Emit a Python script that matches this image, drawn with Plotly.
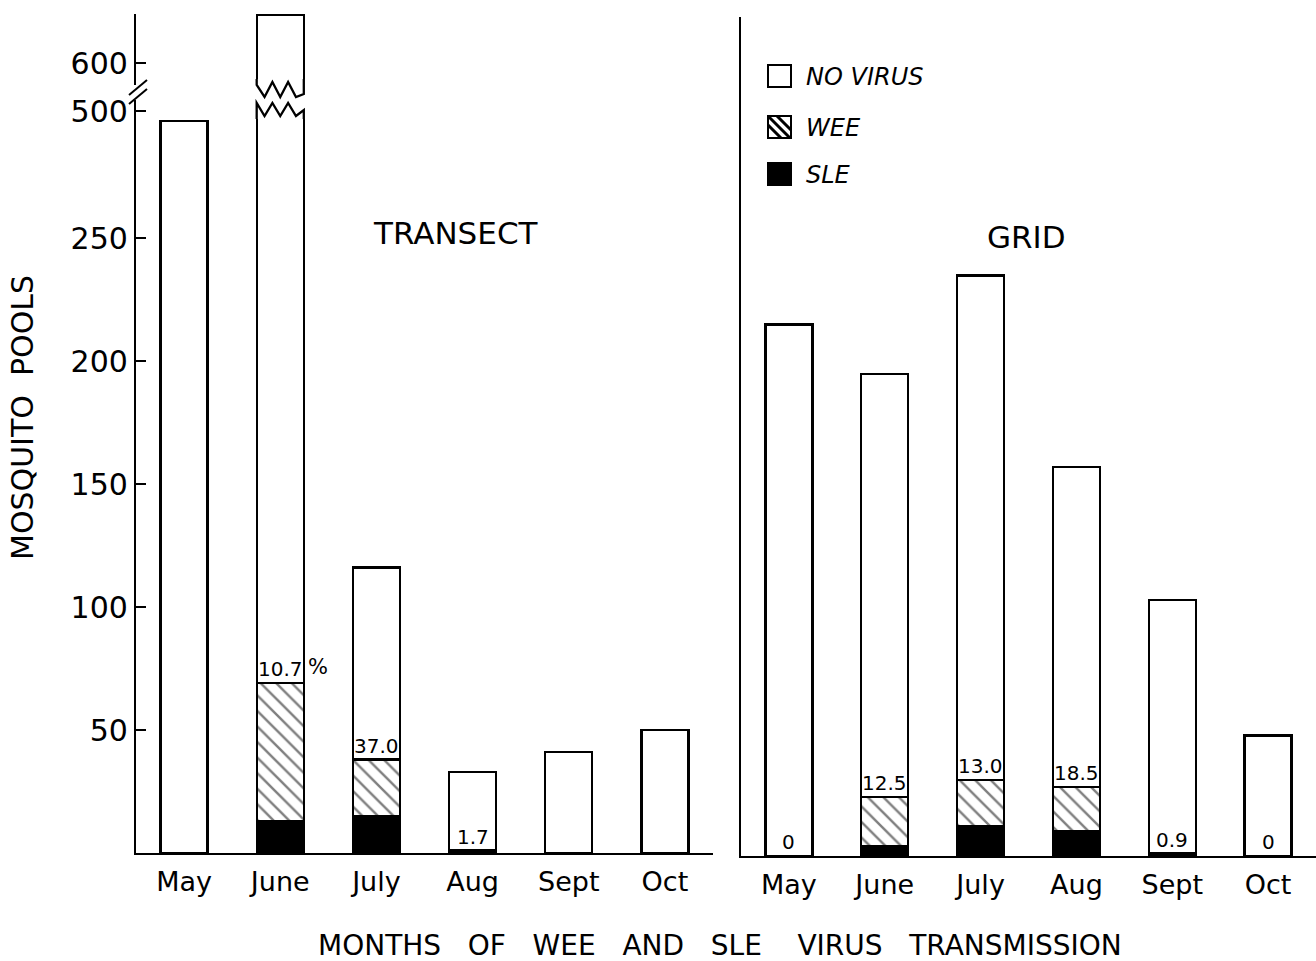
import plotly.graph_objects as go

# ---------------- data ----------------
months = ["May", "June", "July", "Aug", "Sept", "Oct"]

transect_total = [480, 700, 116, 33, 41, 50]
transect_sle = [0, 13, 15, 1, 0, 0]
transect_wee = [0, 56, 23, 0, 0, 0]
transect_labels = ["", "10.7", "37.0", "1.7", "", ""]

grid_total = [216, 196, 236, 158, 104, 49]
grid_sle = [0, 4, 12, 10, 1, 0]
grid_wee = [0, 20, 19, 18, 0, 0]
grid_labels = ["0", "12.5", "13.0", "18.5", "0.9", "0"]

ytick_values = [50, 100, 150, 200, 250, 500, 600]
ytick_labels = ["50", "100", "150", "200", "250", "500", "600"]

# ---------------- geometry helpers ----------------
W, H = 1316, 961
FONT = "DejaVu Sans"


def fx(px):
    return px / W


def fy(py):
    return 1 - py / H


PX_PER_UNIT = 2.46
YMAX = (853 - 14) / PX_PER_UNIT


def disp(v):
    """broken axis: linear to 250, then 500-600 compressed above the break"""
    if v <= 250:
        return v
    return 301.6 + (v - 500) * 0.195


def pix_to_disp(py, base=853):
    return (base - py) / PX_PER_UNIT


BAR_W = 0.49
HATCH = dict(shape="\\", fgcolor="black", bgcolor="white", size=11, solidity=0.22)
LINE = dict(color="black", width=2.3)

fig = go.Figure()
xs = list(range(len(months)))


def add_panel(total, sle, wee, xa, ya):
    nov = [disp(t) - s - w for t, s, w in zip(total, sle, wee)]
    fig.add_trace(go.Bar(x=xs, y=sle, width=BAR_W, marker=dict(color="black", line=LINE),
                         xaxis=xa, yaxis=ya, showlegend=False))
    fig.add_trace(go.Bar(x=xs, y=wee, width=BAR_W,
                         marker=dict(color="white", pattern=HATCH, line=LINE),
                         xaxis=xa, yaxis=ya, showlegend=False))
    fig.add_trace(go.Bar(x=xs, y=nov, width=BAR_W, marker=dict(color="white", line=LINE),
                         xaxis=xa, yaxis=ya, showlegend=False))


add_panel(transect_total, transect_sle, transect_wee, "x", "y")
add_panel(grid_total, grid_sle, grid_wee, "x2", "y2")

LAB_FONT = dict(family=FONT, size=20, color="black")
annotations = []
for i, lab in enumerate(transect_labels):
    if lab:
        annotations.append(dict(x=i, y=transect_sle[i] + transect_wee[i], xref="x", yref="y",
                                text=lab, showarrow=False, xanchor="center", yanchor="bottom",
                                yshift=0, font=LAB_FONT))
annotations.append(dict(x=1 + BAR_W / 2, y=transect_sle[1] + transect_wee[1], xref="x", yref="y",
                        text="%", showarrow=False, xanchor="left", yanchor="bottom", xshift=2, yshift=2,
                        font=dict(family=FONT, size=21, color="black")))
for i, lab in enumerate(grid_labels):
    annotations.append(dict(x=i, y=grid_sle[i] + grid_wee[i], xref="x2", yref="y2",
                            text=lab, showarrow=False, xanchor="center", yanchor="bottom",
                            yshift=0, font=LAB_FONT))

# panel names and axis titles
annotations += [
    dict(x=fx(456), y=fy(233), xref="paper", yref="paper", text="TRANSECT", showarrow=False,
         xanchor="center", yanchor="middle", font=dict(family=FONT, size=31, color="black")),
    dict(x=fx(1026), y=fy(237), xref="paper", yref="paper", text="GRID", showarrow=False,
         xanchor="center", yanchor="middle", font=dict(family=FONT, size=31, color="black")),
    dict(x=fx(720), y=fy(945), xref="paper", yref="paper",
         text="MONTHS   OF   WEE   AND   SLE    VIRUS   TRANSMISSION", showarrow=False,
         xanchor="center", yanchor="middle", font=dict(family=FONT, size=28, color="black")),
    dict(x=fx(22), y=fy(418), xref="paper", yref="paper", text="MOSQUITO  POOLS", showarrow=False,
         xanchor="center", yanchor="middle", textangle=-90,
         font=dict(family=FONT, size=30, color="black")),
]

# legend drawn by hand
legend_items = [("NO VIRUS", 76), ("WEE", 127), ("SLE", 174)]
shapes = []
BX0, BX1 = 768, 791
for name, cy in legend_items:
    annotations.append(dict(x=fx(804), y=fy(cy + 1), xref="paper", yref="paper",
                            xanchor="left", yanchor="middle",
                            text="<i>" + name + "</i>", showarrow=False,
                            font=dict(family=FONT, size=24, color="black")))
    top, bot = cy - 11, cy + 11
    fill = "black" if name == "SLE" else "white"
    shapes.append(dict(type="rect", xref="paper", yref="paper", x0=fx(BX0), x1=fx(BX1),
                       y0=fy(bot), y1=fy(top), fillcolor=fill, line=dict(color="black", width=2)))
    if name == "WEE":
        size = BX1 - BX0
        for k in (-1, 0, 1):
            off = k * 9
            ax, ay = BX0, top - off
            bx, by = BX1, top + size - off
            if ay < top:
                ax += top - ay
                ay = top
            if by > bot:
                bx -= by - bot
                by = bot
            shapes.append(dict(type="line", xref="paper", yref="paper", x0=fx(ax), y0=fy(ay),
                               x1=fx(bx), y1=fy(by), line=dict(color="black", width=3)))

# break on the June transect bar
xl, xr = 1 - BAR_W / 2, 1 + BAR_W / 2
shapes.append(dict(type="rect", xref="x", yref="y", x0=xl - 0.04, x1=xr + 0.04,
                   y0=pix_to_disp(119), y1=pix_to_disp(79), fillcolor="white",
                   line=dict(width=0), layer="above"))
n = 6
lower = [(xl, pix_to_disp(119)), (xl, pix_to_disp(103))]
for k in range(1, n):
    lower.append((xl + k * BAR_W / n, pix_to_disp(116 if k % 2 else 103)))
lower += [(xr, pix_to_disp(110)), (xr, pix_to_disp(119))]
upper = [(xl, pix_to_disp(79)), (xl, pix_to_disp(85))]
for k in range(1, n):
    upper.append((xl + k * BAR_W / n, pix_to_disp(97 if k % 2 else 82)))
upper += [(xr, pix_to_disp(94)), (xr, pix_to_disp(79))]
for pts in (lower, upper):
    path = "M " + " L ".join(f"{a},{b}" for a, b in pts)
    shapes.append(dict(type="path", xref="x", yref="y", path=path,
                       line=dict(color="black", width=2.3), layer="above"))

# break on the y axis
shapes.append(dict(type="rect", xref="paper", yref="paper", x0=fx(132), x1=fx(140),
                   y0=fy(100), y1=fy(85), fillcolor="white", line=dict(width=0), layer="above"))
shapes.append(dict(type="line", xref="paper", yref="paper", x0=fx(129), y0=fy(95), x1=fx(147),
                   y1=fy(80), line=dict(color="black", width=2), layer="above"))
shapes.append(dict(type="line", xref="paper", yref="paper", x0=fx(129), y0=fy(104), x1=fx(147),
                   y1=fy(89), line=dict(color="black", width=2), layer="above"))

axis_common = dict(showgrid=False, zeroline=False, showline=True, linecolor="black", linewidth=2.3)

fig.update_layout(
    width=W, height=H,
    margin=dict(l=0, r=0, t=0, b=0),
    paper_bgcolor="white", plot_bgcolor="rgba(0,0,0,0)",
    barmode="stack", showlegend=False,
    font=dict(family=FONT, color="black"),
    xaxis=dict(domain=[fx(136), fx(713)], range=[-0.5, 5.5], anchor="y",
               tickmode="array", tickvals=xs, ticktext=months, ticks="",
               tickfont=dict(size=27), ticklabelstandoff=3, **axis_common),
    yaxis=dict(domain=[fy(853), fy(14)], range=[0, YMAX], anchor="x",
               tickmode="array", tickvals=[disp(v) for v in ytick_values], ticktext=ytick_labels,
               ticks="inside", ticklen=10, tickwidth=2, tickcolor="black",
               tickfont=dict(size=30), **axis_common),
    xaxis2=dict(domain=[fx(741), 1], range=[-0.5, 5.5], anchor="y2",
                tickmode="array", tickvals=xs, ticktext=months, ticks="",
                tickfont=dict(size=27), ticklabelstandoff=3, **axis_common),
    yaxis2=dict(domain=[fy(856), fy(17)], range=[0, YMAX], anchor="x2",
                showticklabels=False, ticks="", **axis_common),
    annotations=annotations,
    shapes=shapes,
)

fig.write_html("out.html")
